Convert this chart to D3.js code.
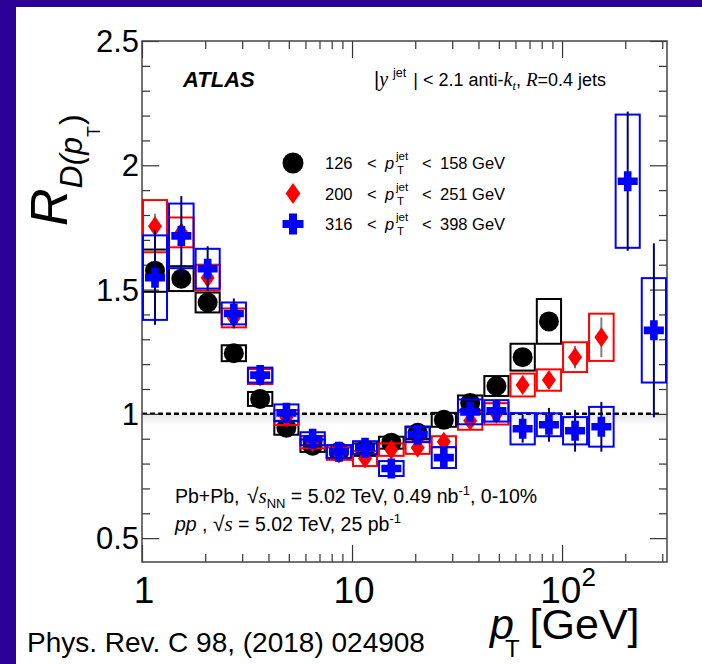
<!DOCTYPE html>
<html>
<head>
<meta charset="utf-8">
<script src="https://cdn.jsdelivr.net/npm/d3@7"></script>
<style>
  body { margin: 0; background: #fff; }
  text { font-family: "Liberation Sans", Arial, Helvetica, sans-serif; fill: #000; }
</style>
</head>
<body>
<div id="chart"></div>
<script>
let width = 702;
let height = 664;
let frame = ({left: 142, right: 667, top: 41, bottom: 562});

// track pT bin edges [GeV]
let binEdges = [1, 1.33, 1.78, 2.37, 3.16, 4.22, 5.62, 7.5, 10, 13.3, 17.8, 23.7,
                31.6, 42.2, 56.2, 75, 100, 133, 178, 237, 316];

// 126 < pT jet < 158 GeV
let blackVal  = [1.576, 1.544, 1.448, 1.244, 1.06, 0.944, 0.872, 0.848, 0.856, 0.884,
                 0.924, 0.976, 1.044, 1.112, 1.228, 1.372, null, null, null, null];
let blackSys  = [0.085, 0.05, 0.04, 0.032, 0.028, 0.028, 0.025, 0.025, 0.025, 0.024,
                 0.025, 0.028, 0.03, 0.04, 0.054, 0.09, null, null, null, null];
let blackStat = [0.03, 0.02, 0.015, 0.01, 0.01, 0.01, 0.01, 0.01, 0.01, 0.01,
                 0.01, 0.01, 0.01, 0.015, 0.02, 0.03, null, null, null, null];

// 200 < pT jet < 251 GeV
let redVal  = [1.755, 1.73, 1.548, 1.386, 1.15, 0.985, 0.886, 0.84, 0.82, 0.856,
               0.864, 0.888, 0.972, 1.0, 1.116, 1.136, 1.228, 1.308, null, null];
let redSys  = [0.105, 0.06, 0.052, 0.038, 0.03, 0.03, 0.025, 0.025, 0.03, 0.025,
               0.025, 0.022, 0.036, 0.043, 0.046, 0.043, 0.06, 0.095, null, null];
let redStat = [0.05, 0.03, 0.02, 0.015, 0.01, 0.01, 0.01, 0.01, 0.01, 0.01,
               0.01, 0.015, 0.015, 0.02, 0.03, 0.03, 0.045, 0.08, null, null];

// 316 < pT jet < 398 GeV
let blueVal  = [1.548, 1.716, 1.584, 1.404, 1.156, 1.004, 0.90, 0.848, 0.864, 0.78,
                0.916, 0.824, 1.008, 1.012, 0.94, 0.956, 0.932, 0.948, 1.936, 1.336];
let blueSys  = [0.17, 0.13, 0.08, 0.044, 0.03, 0.034, 0.026, 0.026, 0.026, 0.03,
                0.03, 0.042, 0.05, 0.043, 0.063, 0.046, 0.055, 0.08, 0.268, 0.21];
let blueStat = [0.19, 0.16, 0.09, 0.06, 0.03, 0.02, 0.02, 0.02, 0.02, 0.02,
                0.02, 0.02, 0.03, 0.045, 0.056, 0.068, 0.084, 0.1, 0.28, 0.35];

let yMajor = [0.5, 1, 1.5, 2, 2.5];
let yMinor = [0.6, 0.7, 0.8, 0.9, 1.1, 1.2, 1.3, 1.4, 1.6, 1.7, 1.8, 1.9, 2.1, 2.2, 2.3, 2.4];
let xMajor = [1, 10, 100];
let xMinor = [2, 3, 4, 5, 6, 7, 8, 9, 20, 30, 40, 50, 60, 70, 80, 90, 200, 300];

let legendLabels = [["126", "158"], ["200", "251"], ["316", "398"]];

let svg = d3.select("#chart").append("svg")
    .attr("width", width)
    .attr("height", height);

// purple slide border
svg.append("rect").attr("width", width).attr("height", height).attr("fill", "#2b0097");
svg.append("rect").attr("x", 16).attr("y", 7).attr("width", width - 16).attr("height", height - 7).attr("fill", "#fff");

let x = d3.scaleLog().domain([1, 316]).range([frame.left, frame.right]);
let y = d3.scaleLinear().domain([0.404, 2.5]).range([frame.bottom, frame.top]);

// grey normalisation band just under unity
let grad = svg.append("defs").append("linearGradient")
    .attr("id", "band").attr("x1", 0).attr("x2", 0).attr("y1", 0).attr("y2", 1);
grad.append("stop").attr("offset", "0%").attr("stop-color", "#e4e4e4");
grad.append("stop").attr("offset", "100%").attr("stop-color", "#ffffff");
svg.append("rect")
    .attr("x", frame.left + 1).attr("width", frame.right - frame.left - 2)
    .attr("y", y(1)).attr("height", y(0.955) - y(1))
    .attr("fill", "url(#band)");

svg.append("line")
    .attr("x1", frame.left).attr("x2", frame.right - 8)
    .attr("y1", y(1)).attr("y2", y(1))
    .attr("stroke", "#000").attr("stroke-width", 2.5)
    .attr("stroke-dasharray", "5,3");

// axes with inward ticks on all four sides
let axisDefs = [
    [() => d3.axisLeft(y), "translate(" + frame.left + ",0)", yMajor, yMinor],
    [() => d3.axisRight(y), "translate(" + frame.right + ",0)", yMajor, yMinor],
    [() => d3.axisBottom(x), "translate(0," + frame.bottom + ")", xMajor, xMinor],
    [() => d3.axisTop(x), "translate(0," + frame.top + ")", xMajor, xMinor]
];
axisDefs.forEach(function(a) {
    [[a[2], 17], [a[3], 8]].forEach(function(t) {
        let g = svg.append("g").attr("transform", a[1])
            .call(a[0]().tickValues(t[0]).tickSize(-t[1]).tickSizeOuter(0).tickFormat(""));
        g.select(".domain").remove();
        g.selectAll("line").attr("stroke", "#333").attr("stroke-width", 1.2);
    });
});
svg.append("rect")
    .attr("x", frame.left).attr("y", frame.top)
    .attr("width", frame.right - frame.left).attr("height", frame.bottom - frame.top)
    .attr("fill", "none").attr("stroke", "#444").attr("stroke-width", 1.5);

// tick labels
svg.selectAll(".ylab").data(yMajor).enter().append("text")
    .attr("x", frame.left - 3).attr("y", d => y(d) + 11)
    .attr("text-anchor", "end").attr("font-size", 31)
    .text(d => d3.format("~g")(d));

svg.selectAll(".xlab").data(xMajor).enter().append("text")
    .attr("x", d => x(d) + (d === 100 ? 6 : 2)).attr("y", 603)
    .attr("text-anchor", "middle").attr("font-size", 37)
    .each(function(d) {
        let t = d3.select(this);
        if (d === 100) {
            t.text("10");
            t.append("tspan").attr("dy", -17).attr("font-size", 26).text("2");
        } else {
            t.text(d);
        }
    });

// series
let series = [
    {val: blackVal, sys: blackSys, stat: blackStat, color: "#000", bar: "#000", shape: "circle"},
    {val: redVal, sys: redSys, stat: redStat, color: "#ff0000", bar: "#808080", shape: "diamond"},
    {val: blueVal, sys: blueSys, stat: blueStat, color: "#0000ff", bar: "#000070", shape: "cross"}
];

function marker(g, shape, cx, cy, s) {
    if (shape === "circle") {
        g.append("circle").attr("cx", cx).attr("cy", cy).attr("r", 10 * s).attr("fill", "#000");
    } else if (shape === "diamond") {
        let w = 7 * s, h = 10 * s;
        g.append("path")
            .attr("d", `M${cx},${cy - h}L${cx + w},${cy}L${cx},${cy + h}L${cx - w},${cy}Z`)
            .attr("fill", "#ff0000");
    } else {
        let a = 10 * s, t = 3.8 * s;
        g.append("path")
            .attr("d", `M${cx - t},${cy - a}H${cx + t}V${cy - t}H${cx + a}V${cy + t}H${cx + t}V${cy + a}` +
                       `H${cx - t}V${cy + t}H${cx - a}V${cy - t}H${cx - t}Z`)
            .attr("fill", "#0000ff");
    }
}

series.forEach(function(s) {
    let pts = s.val.map((v, i) => ({v: v, sys: s.sys[i], stat: s.stat[i],
                                    lo: binEdges[i], hi: binEdges[i + 1]}))
                   .filter(d => d.v !== null);
    let g = svg.append("g");
    g.selectAll(".sys").data(pts).enter().append("rect")
        .attr("x", d => x(d.lo) + 1).attr("width", d => x(d.hi) - x(d.lo) - 2)
        .attr("y", d => y(d.v + d.sys)).attr("height", d => y(d.v - d.sys) - y(d.v + d.sys))
        .attr("fill", "none").attr("stroke", s.color).attr("stroke-width", 2);
    g.selectAll(".stat").data(pts).enter().append("line")
        .attr("x1", d => x(Math.sqrt(d.lo * d.hi))).attr("x2", d => x(Math.sqrt(d.lo * d.hi)))
        .attr("y1", d => y(d.v + d.stat)).attr("y2", d => y(d.v - d.stat))
        .attr("stroke", s.bar).attr("stroke-width", 2);
    pts.forEach(d => marker(g, s.shape, x(Math.sqrt(d.lo * d.hi)), y(d.v), 1));
});

// legend
legendLabels.forEach(function(l, i) {
    let cy = 163 + i * 30.5;
    marker(svg, series[i].shape, 293, cy, 1.05);
    let base = cy + 6;
    let t = svg.append("text").attr("x", 325).attr("y", base).attr("font-size", 16.5);
    t.append("tspan").text(l[0]);
    t.append("tspan").attr("x", 367).text("<");
    t.append("tspan").attr("x", 385).attr("font-style", "italic").text("p");
    t.append("tspan").attr("x", 422).text("<");
    t.append("tspan").attr("x", 440).text(l[1] + " GeV");
    svg.append("text").attr("x", 396).attr("y", base - 9).attr("font-size", 11.5).text("jet");
    svg.append("text").attr("x", 397).attr("y", base + 5).attr("font-size", 11.5).text("T");
});

// ATLAS label and jet selection
svg.append("text").attr("x", 183).attr("y", 87)
    .attr("font-size", 22).attr("font-weight", "bold").attr("font-style", "italic")
    .text("ATLAS");

let serif = "Liberation Serif, Times New Roman, serif";
let sel = svg.append("text").attr("x", 374).attr("y", 86).attr("font-size", 18);
sel.append("tspan").attr("font-size", 20).text("|");
sel.append("tspan").attr("font-family", serif).attr("font-style", "italic").attr("font-size", 20).text("y");
sel.append("tspan").attr("dx", 5).attr("dy", -9).attr("font-size", 12.5).text("jet");
sel.append("tspan").attr("dx", 7).attr("dy", 9).text("| < 2.1 anti-");
sel.append("tspan").attr("font-family", serif).attr("font-style", "italic").attr("font-size", 20).text("k");
sel.append("tspan").attr("dy", 4).attr("font-size", 12.5)
    .attr("font-family", serif).attr("font-style", "italic").text("t");
sel.append("tspan").attr("dy", -4).text(", ");
sel.append("tspan").attr("font-family", serif).attr("font-style", "italic").attr("font-size", 19).text("R");
sel.append("tspan").text("=0.4 jets");

// collision system text
let c1 = svg.append("text").attr("x", 175).attr("y", 503).attr("font-size", 19.5);
c1.append("tspan").text("Pb+Pb, ");
c1.append("tspan").attr("font-size", 21).attr("dx", 2).text("\u221A");
c1.append("tspan").attr("font-family", serif).attr("font-style", "italic").attr("font-size", 21).text("s");
c1.append("tspan").attr("dy", 5).attr("font-size", 13).text("NN");
c1.append("tspan").attr("dy", -5).text(" = 5.02 TeV, 0.49 nb");
c1.append("tspan").attr("dy", -8).attr("font-size", 13).text("-1");
c1.append("tspan").attr("dy", 8).text(", 0-10%");

let c2 = svg.append("text").attr("x", 175).attr("y", 531).attr("font-size", 19.5);
c2.append("tspan").attr("font-style", "italic").text("pp");
c2.append("tspan").text(" ,  ");
c2.append("tspan").attr("font-size", 21).text("\u221A");
c2.append("tspan").attr("font-family", serif).attr("font-style", "italic").attr("font-size", 21).text("s");
c2.append("tspan").text(" = 5.02 TeV, 25 pb");
c2.append("tspan").attr("dy", -8).attr("font-size", 13).text("-1");

// y axis title
let yt = svg.append("text").attr("transform", "translate(67,226) rotate(-90)")
    .attr("font-style", "italic");
yt.append("tspan").attr("font-size", 52).text("R");
yt.append("tspan").attr("font-size", 32).attr("dy", 15).text("D(p");
yt.append("tspan").attr("font-size", 18).attr("font-style", "normal").attr("dy", 18).text("T");
yt.append("tspan").attr("font-size", 32).attr("font-style", "normal").attr("dy", -18).attr("dx", 1).text(")");

// x axis title
let xt = svg.append("text").attr("x", 490).attr("y", 639).attr("font-size", 43);
xt.append("tspan").attr("font-style", "italic").text("p");
xt.append("tspan").attr("font-size", 24).attr("dy", 18).attr("dx", -9).text("T");
xt.append("tspan").attr("dy", -18).attr("dx", 10).text("[GeV]");

// reference
svg.append("text").attr("x", 27).attr("y", 652).attr("font-size", 28)
    .text("Phys. Rev. C 98, (2018) 024908");
</script>
</body>
</html>
